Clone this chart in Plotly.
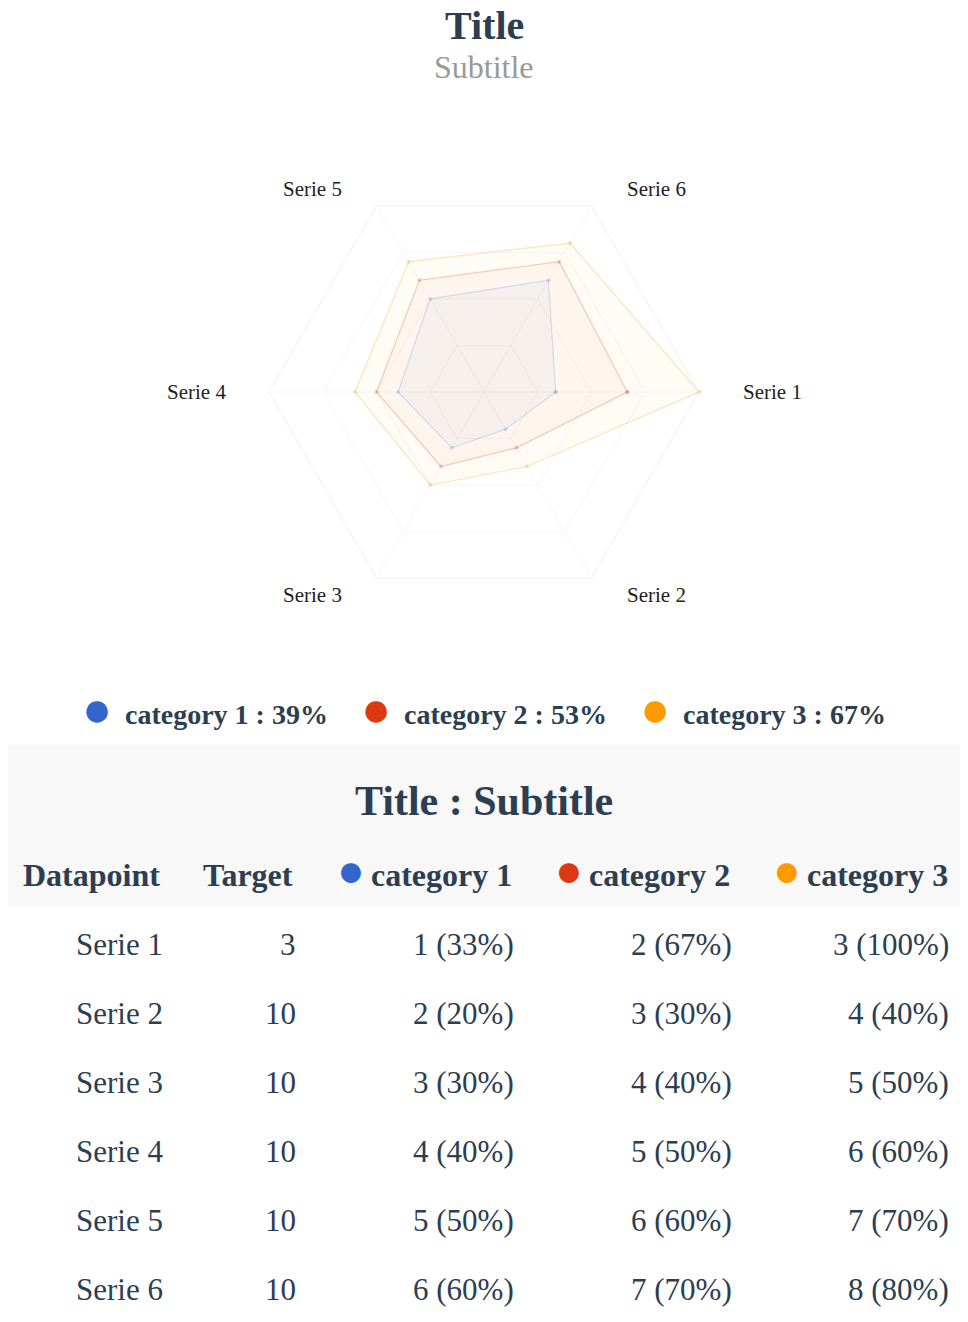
import plotly.graph_objects as go
import math

series = ["Serie 1", "Serie 2", "Serie 3", "Serie 4", "Serie 5", "Serie 6"]
targets = [3, 10, 10, 10, 10, 10]
cat_names = ["category 1", "category 2", "category 3"]
cat1 = [1, 2, 3, 4, 5, 6]
cat2 = [2, 3, 4, 5, 6, 7]
cat3 = [3, 4, 5, 6, 7, 8]
colors = ["#3366cc", "#dc3912", "#ff9900"]
fills = ["rgba(51,102,204,0.04)", "rgba(220,57,18,0.03)", "rgba(255,153,0,0.04)"]
lines = ["rgba(51,102,204,0.18)", "rgba(220,57,18,0.25)", "rgba(255,153,0,0.25)"]

W, H = 968, 1322
OFF = 8  # page body margin
cats = [cat1, cat2, cat3]
pcts = [[v / t * 100 for v, t in zip(c, targets)] for c in cats]
avgs = [round(sum(p) / len(p)) for p in pcts]
font = "Liberation Serif"
dark = "#2c3e50"

fig = go.Figure()
for i in range(3):
    fig.add_trace(go.Scatterpolar(
        r=pcts[i] + [pcts[i][0]], theta=series + [series[0]], mode="lines+markers",
        fill="toself", fillcolor=fills[i], line=dict(color=lines[i], width=1.2),
        marker=dict(size=4, color=lines[i]), name=cat_names[i], showlegend=False))

cx, cy, R = 484 - OFF, 392 - OFF, 215
fig.update_layout(
    width=W, height=H, margin=dict(l=0, r=0, t=0, b=0),
    paper_bgcolor="white", plot_bgcolor="white", showlegend=False,
    polar=dict(
        domain=dict(x=[(cx - R) / W, (cx + R) / W], y=[1 - (cy + R) / H, 1 - (cy - R) / H]),
        gridshape="linear", bgcolor="white",
        radialaxis=dict(range=[0, 100], showticklabels=False, ticks="", gridcolor="#f6f6f6",
                        linecolor="rgba(0,0,0,0)", tickvals=[25, 50, 75, 100]),
        angularaxis=dict(type="category", categoryarray=series, direction="clockwise", rotation=0,
                         showticklabels=False, gridcolor="#f6f6f6", linecolor="#f0f0f0", ticks=""),
    ),
)

ann = []
def A(x, y, text, size, color=dark, xanchor="center", bold=False):
    ann.append(dict(x=(x - OFF) / W, y=1 - (y - OFF) / H, xref="paper", yref="paper",
                    text=f"<b>{text}</b>" if bold else text,
                    showarrow=False, xanchor=xanchor, yanchor="middle",
                    font=dict(family=font, size=size, color=color)))

A(484, 25, "Title", 40, bold=True)
A(484, 67, "Subtitle", 32, color="#999999")
for k, s in enumerate(series):
    rad = math.radians(-60 * k)
    c, sn = math.cos(rad), math.sin(rad)
    dx = 288 * c if abs(abs(c) - 1) < 1e-6 else 172 * (1 if c > 0 else -1)
    A(484 + dx, 392 - 234 * sn, s, 21, color="#222222")

leg_x = [97, 376, 655]
for i in range(3):
    A(leg_x[i], 709, "●", 50, color=colors[i])
    A(leg_x[i] + 26, 714, f"{cat_names[i]} : {avgs[i]}%", 28, xanchor="left", bold=True)

fig.add_shape(type="rect", xref="paper", yref="paper", x0=0, x1=1, y0=1 - (906 - OFF) / H, y1=1 - (758 - OFF) / H + 0.01,
              fillcolor="#f8f8f8", line=dict(width=0), layer="below")
A(484, 801, "Title : Subtitle", 42, bold=True)
A(91, 875, "Datapoint", 32, bold=True)
A(248, 875, "Target", 32, bold=True)
hdr_x = [351, 569, 787]
for i in range(3):
    A(hdr_x[i], 870, "●", 46, color=colors[i])
    A(hdr_x[i] + 18, 875, cat_names[i], 32, xanchor="left", bold=True)

col_r = [516, 734, 951]
for j, s in enumerate(series):
    y = 944 + 69 * j
    A(165, y, s, 31, xanchor="right")
    A(298, y, str(targets[j]), 31, xanchor="right")
    for i in range(3):
        A(col_r[i], y, f"{cats[i][j]} ({round(pcts[i][j])}%)", 31, xanchor="right")

fig.update_layout(annotations=ann)
fig.write_html("out.html")
